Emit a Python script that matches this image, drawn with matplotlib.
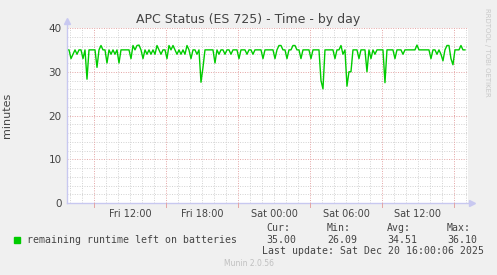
import numpy as np
import matplotlib
matplotlib.use('Agg')
import matplotlib.pyplot as plt

# remaining runtime, 10 minute samples starting Fri 06:45 (hours since Fri 00:00)
start_hour = 6.75
step_hour = 1 / 6
runtime = [
    35, 35, 33, 34, 35, 34, 35, 35, 33, 35, 28.3, 35,
    35, 35, 35, 31, 35, 36, 35, 35, 32, 35, 34, 35,
    34, 35, 32, 35, 35, 35, 35, 35, 33, 36, 35, 36,
    36.1, 35, 33, 35, 34, 35, 34, 35, 34, 36, 35, 34,
    35, 35, 33, 36, 35, 36, 35, 34, 35, 34, 35, 34,
    36, 35, 33, 35, 35, 34, 35, 27.6, 31, 35, 35, 35,
    35, 35, 32, 35, 34, 35, 35, 34, 35, 35, 34, 35,
    35, 35, 33, 35, 35, 35, 34, 35, 35, 34, 35, 35,
    35, 35, 33, 35, 35, 35, 35, 35, 33, 35, 36, 36,
    35, 35, 33, 35, 35, 36, 36, 35, 35, 33, 35, 35,
    35, 35, 33, 35, 35, 35, 35, 28, 26.09, 35, 35, 35,
    35, 35, 33, 35, 35, 36, 34, 35, 26.7, 30, 30, 35,
    35, 35, 33, 35, 35, 35, 30, 35, 33, 35, 34, 35,
    35, 35, 35, 27.5, 35, 35, 35, 35, 33, 35, 35, 35,
    34, 35, 35, 35, 35, 35, 35, 36.1, 35, 35, 35, 35,
    35, 35, 33, 35, 35, 34, 35, 34, 32.5, 35, 36, 36,
    33, 31.6, 35, 35, 35, 36, 35, 35,
]
hours = start_hour + step_hour * np.arange(len(runtime))

label_hours = [12, 18, 24, 30, 36]
label_texts = ['Fri 12:00', 'Fri 18:00', 'Sat 00:00', 'Sat 06:00', 'Sat 12:00']
major_hours = [9, 15, 21, 27, 33, 39]
x_min, x_max = 6.75, 40.17

legend_label = 'remaining runtime left on batteries'
stat_names = ['Cur:', 'Min:', 'Avg:', 'Max:']
stat_values = ['35.00', '26.09', '34.51', '36.10']
last_update = 'Last update: Sat Dec 20 16:00:06 2025'

bg = '#f0f0f0'
txt = '#444444'
green = '#00cc00'
mono = 'DejaVu Sans Mono'

fig = plt.figure(figsize=(4.97, 2.75), dpi=100, facecolor=bg)
ax = fig.add_axes([67 / 497, 1 - 203 / 275, 401 / 497, 175 / 275])
ax.set_facecolor('white')

# grid: red dotted majors, grey dotted minors
dots = (0, (1, 1.5))
for y in np.arange(0, 41, 2):
    col = '#e4a4a4' if y % 10 == 0 else '#d2d2d2'
    ax.axhline(y, color=col, lw=0.7, ls=dots, zorder=1)
for h in range(7, 41):
    col = '#e4a4a4' if h in major_hours else '#d2d2d2'
    ax.axvline(h, color=col, lw=0.7, ls=dots, zorder=1)

ax.plot(hours, runtime, color=green, lw=1.0, zorder=3)

ax.set_xlim(x_min, x_max)
ax.set_ylim(0, 40)
for s in ax.spines.values():
    s.set_visible(False)

# axes with arrows
axis_col = '#c8c8f0'
ax.plot([x_min, x_max + 0.2], [0, 0], color=axis_col, lw=1, clip_on=False, zorder=4)
ax.plot([x_min, x_min], [0, 41.2], color=axis_col, lw=1, clip_on=False, zorder=4)
ax.plot([x_max + 0.3], [0], marker='>', color=axis_col, ms=4, clip_on=False, zorder=4)
ax.plot([x_min], [41.5], marker='^', color=axis_col, ms=4, clip_on=False, zorder=4)
# small red tick marks below the x axis at the major lines
for h in major_hours:
    ax.plot([h, h], [0, -0.9], color='#e4a4a4', lw=0.7, clip_on=False, zorder=4)

ax.set_xticks(label_hours)
ax.set_xticklabels(label_texts, fontsize=7, color=txt)
ax.set_yticks([0, 10, 20, 30, 40])
ax.set_yticklabels(['0', '10', '20', '30', '40'], fontsize=7.5, color=txt)
ax.tick_params(length=0, pad=4)
ax.set_ylabel('minutes', fontsize=8, color=txt, labelpad=26)

fig.text(0.5, 1 - 19 / 275, 'APC Status (ES 725) - Time - by day', ha='center', va='center',
         fontsize=9, color=txt)
fig.text(487 / 497, 1 - 52 / 275, 'RRDTOOL / TOBI OETIKER', rotation=270, ha='center', va='center',
         fontsize=5, color='#c8c8c8')

# legend
fig.patches.append(plt.Rectangle((14 / 497, 1 - 243 / 275), 6 / 497, 6 / 275,
                                 transform=fig.transFigure, color=green, figure=fig))
fig.text(27 / 497, 1 - 240 / 275, legend_label, family=mono, fontsize=7.1, color=txt, va='center')
stat_x = [266, 327, 387, 447]
for x, name, val in zip(stat_x, stat_names, stat_values):
    fig.text(x / 497, 1 - 228 / 275, name, family=mono, fontsize=7.1, color=txt, va='center')
    fig.text(x / 497, 1 - 240 / 275, val, family=mono, fontsize=7.1, color=txt, va='center')
fig.text(262 / 497, 1 - 251 / 275, last_update, family=mono, fontsize=7.1, color=txt, va='center')
fig.text(0.5, 1 - 264 / 275, 'Munin 2.0.56', ha='center', va='center', fontsize=5.5, color='#c0c0c0')

fig.savefig('out.png', dpi=100, facecolor=bg)
